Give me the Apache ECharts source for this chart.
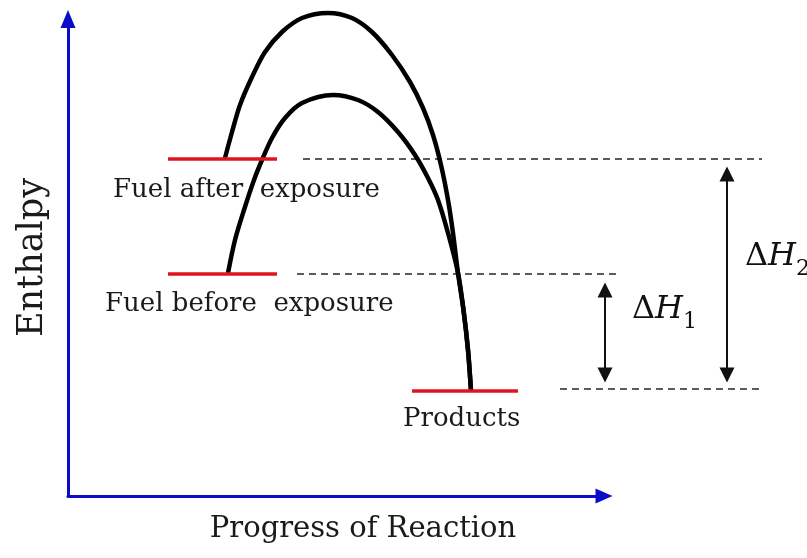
<!DOCTYPE html>
<html lang="en">
<head>
<meta charset="utf-8"/>
<title>Enthalpy diagram</title>
<script src="https://cdn.jsdelivr.net/npm/echarts@6/dist/echarts.min.js"></script>
<style>
    html, body { margin: 0; padding: 0; background: #fff; }
    #main { width: 807px; height: 558px; }
</style>
</head>
<body>
<div id="main"></div>
<script>
// energy levels [progress, enthalpy]
const fuelAfter = [[100, 337], [209, 337]];
const fuelBefore = [[100, 222], [209, 222]];
const products = [[344, 105], [450, 105]];

// reaction paths
const pathAfter = [[157, 338], [164, 364], [172, 391], [184, 419], [197, 444], [214, 464], [234, 478],
    [260, 483], [284, 478], [304, 464], [324, 441], [342, 414], [355, 388], [365, 361], [373, 331],
    [380, 296], [385, 263], [390, 223], [395.5, 186], [400, 146], [403, 105]];
const pathBefore = [[160, 223], [167, 256], [176, 286], [186, 316], [194, 336], [204, 358], [217, 378],
    [234, 393], [265, 401], [290, 396], [310, 384], [330, 364], [347, 341], [360, 318], [370, 296],
    [380, 263], [390, 223], [395.5, 186], [400, 146], [403, 105]];

// dashed reference lines
const refAfter = [[235, 337], [694, 337]];
const refBefore = [[229, 222], [552, 222]];
const refProducts = [[492, 107], [694, 107]];

// delta H arrows
const dH1 = [[537, 206], [537, 121]];
const dH2 = [[659, 322], [659, 121]];

// text labels
const labelNames = ['Fuel after  exposure', 'Fuel before  exposure', 'Products', 'dH1', 'dH2'];
const labelPos = [[45, 306], [37, 192], [335, 77], [564, 186], [677, 239]];

const chart = echarts.init(document.getElementById('main'));

function level(data) {
    return {type: 'line', data: data, symbol: 'none', clip: false, z: 3,
        lineStyle: {color: '#e0141e', width: 3.5}};
}
function path(data) {
    return {type: 'line', data: data, symbol: 'none', smooth: 0.3, clip: false, z: 2,
        lineStyle: {color: '#000', width: 4.5}};
}

const textFont = 'DejaVu Serif';
const rich = {
    d: {fontFamily: textFont, fontSize: 32, lineHeight: 46, color: '#111'},
    h: {fontFamily: textFont, fontSize: 32, lineHeight: 46, fontStyle: 'italic', color: '#111'},
    s: {fontFamily: textFont, fontSize: 22, lineHeight: 22, verticalAlign: 'bottom', color: '#111'}
};

const labelData = labelNames.map(function (n, i) {
    const item = {name: n, value: labelPos[i]};
    if (n === 'dH1') item.label = {formatter: '{d|Δ}{h|H}{s|1}', rich: rich};
    if (n === 'dH2') item.label = {formatter: '{d|Δ}{h|H}{s|2}', rich: rich};
    return item;
});

const option = {
    animation: false,
    grid: {left: 68, right: 203, top: 19, bottom: 62},
    xAxis: {
        type: 'value', min: 0, max: 536,
        name: 'Progress of Reaction', nameLocation: 'middle', nameGap: 19,
        nameTextStyle: {fontFamily: textFont, fontSize: 29, color: '#1a1a1a', padding: [0, 0, 0, 54]},
        axisLine: {lineStyle: {color: '#0b0bc8', width: 3}, symbol: ['none', 'triangle'], symbolSize: [15, 17]},
        axisTick: {show: false}, axisLabel: {show: false}, splitLine: {show: false}
    },
    yAxis: {
        type: 'value', min: 0, max: 477,
        name: 'Enthalpy', nameLocation: 'middle', nameGap: 18,
        nameTextStyle: {fontFamily: textFont, fontSize: 35, color: '#1a1a1a'},
        axisLine: {lineStyle: {color: '#0b0bc8', width: 3}, symbol: ['none', 'triangle'], symbolSize: [15, 18]},
        axisTick: {show: false}, axisLabel: {show: false}, splitLine: {show: false}
    },
    series: [
        {type: 'lines', coordinateSystem: 'cartesian2d', clip: false, symbol: 'none',
            lineStyle: {color: '#5a5a5a', width: 2, type: [7, 5], opacity: 1},
            data: [{coords: refAfter}, {coords: refBefore}, {coords: refProducts}]},
        path(pathAfter), path(pathBefore),
        level(fuelAfter), level(fuelBefore), level(products),
        {type: 'lines', coordinateSystem: 'cartesian2d', clip: false, symbol: ['triangle', 'triangle'], symbolSize: 15,
            lineStyle: {color: '#111', width: 2, opacity: 1},
            data: [{coords: dH1}, {coords: dH2}]},
        {type: 'scatter', data: labelData, symbolSize: 0, clip: false, z: 5,
            itemStyle: {opacity: 1},
            label: {show: true, position: 'right', distance: 0, formatter: '{b}',
                fontFamily: textFont, fontSize: 26, color: '#1a1a1a'}}
    ]
};
chart.setOption(option);
</script>
</body>
</html>
